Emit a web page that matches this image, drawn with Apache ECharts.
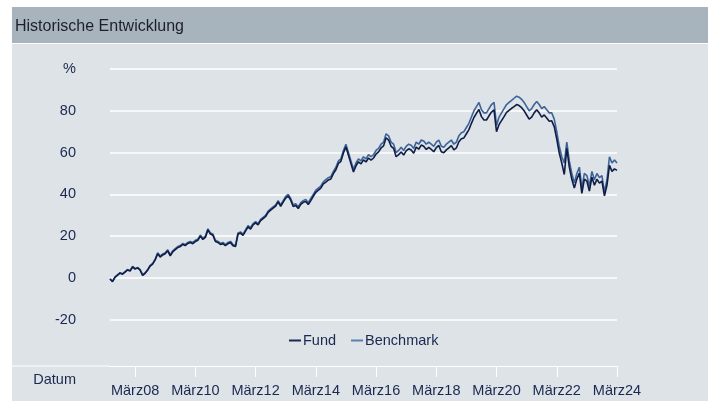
<!DOCTYPE html>
<html>
<head>
<meta charset="utf-8">
<script src="https://cdn.jsdelivr.net/npm/echarts@6/dist/echarts.min.js"></script>
<style>
  html, body { margin: 0; padding: 0; background: #fff; }
  #hdr { position: absolute; left: 12px; top: 7px; width: 696px; height: 36px; background: #a7b4be; }
  #bg { position: absolute; left: 12px; top: 44px; width: 696px; height: 357px; background: #dde3e7; }
  #chart { position: absolute; left: 0; top: 0; width: 708px; height: 401px; }
</style>
</head>
<body>
<div id="hdr"></div>
<div id="bg"></div>
<div id="chart"></div>
<script>
// months counted from März 2008 (0); series start Mai 2007
var firstMonth = -10;
var tickMonths = [0, 24, 48, 72, 96, 120, 144, 168, 192];
var tickLabels = ['März08', 'März10', 'März12', 'März14', 'März16', 'März18', 'März20', 'März22', 'März24'];

var fund = [
  -0.5, -1.8, 0.3, 1.3, 2.3, 1.8, 2.8, 3.8,
  3.3, 5.3, 4.2, 4.8, 3.7, 1.2, 2.2, 3.7, 5.7, 6.6, 8.6, 11.6,
  10.0, 11.0, 11.6, 13.0, 10.6, 12.5, 13.5, 14.5, 15.0, 16.0, 15.5, 16.5,
  17.0, 16.4, 17.4, 18.0, 20.0, 18.4, 19.4, 23.0, 21.0, 20.4, 17.4, 17.0,
  16.0, 16.4, 15.4, 16.4, 17.0, 15.4, 15.0, 21.0, 21.4, 20.4, 22.4, 24.4,
  23.4, 25.4, 26.4, 25.4, 27.4, 28.4, 29.4, 31.4, 32.4, 33.4, 34.4, 36.4,
  34.3, 36.3, 38.2, 39.2, 37.2, 34.2, 34.7, 33.2, 35.2, 36.2, 36.6, 35.1,
  37.0, 39.0, 41.0, 42.0, 43.0, 45.0, 45.9, 46.9, 47.4, 49.9, 51.8, 54.8,
  55.8, 59.8, 62.7, 58.7, 54.7, 50.7, 53.6, 55.6, 54.6, 56.5, 55.5, 57.4,
  56.4, 57.4, 59.3, 60.3, 62.2, 63.2, 67.1, 66.0, 63.0, 62.0, 58.0, 59.0,
  60.3, 58.8, 60.8, 61.8, 61.2, 59.7, 62.6, 61.6, 63.6, 63.0, 61.5, 62.5,
  61.5, 60.4, 62.4, 63.4, 60.4, 59.9, 61.3, 62.3, 63.3, 61.3, 62.2, 65.2,
  66.6, 67.0, 69.0, 71.0, 74.0, 76.8, 78.8, 80.6, 77.2, 75.6, 75.6, 77.6,
  79.4, 80.4, 70.0, 73.4, 75.3, 77.2, 79.2, 80.2, 81.2, 82.0, 83.0, 82.5,
  81.5, 80.0, 78.0, 76.0, 77.0, 79.0, 80.5, 79.0, 77.0, 78.0, 76.5, 75.0,
  75.2, 72.4, 66.5, 59.8, 55.0, 49.5, 62.0, 53.0, 47.2, 43.0, 47.3, 50.2,
  40.5, 47.3, 46.3, 41.6, 48.2, 44.4, 47.2, 45.4, 46.3, 39.3, 44.3, 53.9,
  51.0, 52.2, 51.5
];

var benchmark = [
  -0.5, -1.5, 0.5, 1.5, 2.5, 2.0, 3.0, 4.0,
  3.5, 5.5, 4.5, 5.0, 4.0, 1.5, 2.5, 4.0, 6.0, 7.0, 9.0, 12.0,
  10.5, 11.5, 12.0, 13.5, 11.0, 13.0, 14.0, 15.0, 15.5, 16.5, 16.0, 17.0,
  17.5, 17.0, 18.0, 18.5, 20.5, 19.0, 20.0, 23.5, 21.5, 21.0, 18.0, 17.5,
  16.5, 17.0, 16.0, 17.0, 17.5, 16.0, 15.5, 21.5, 22.0, 21.0, 23.0, 25.0,
  24.0, 26.0, 27.0, 26.0, 28.0, 29.0, 30.0, 32.0, 33.0, 34.0, 35.0, 37.0,
  35.0, 37.0, 39.0, 40.0, 38.0, 35.0, 35.5, 34.0, 36.0, 37.0, 37.5, 36.0,
  38.0, 40.0, 42.0, 43.0, 44.0, 46.0, 47.0, 48.0, 48.5, 51.0, 53.0, 56.0,
  57.0, 61.0, 64.0, 60.0, 56.0, 52.0, 55.0, 57.0, 56.0, 58.0, 57.0, 59.0,
  58.0, 59.0, 61.0, 62.0, 64.0, 65.0, 69.0, 68.0, 65.0, 64.0, 60.0, 61.0,
  62.5, 61.0, 63.0, 64.0, 63.5, 62.0, 65.0, 64.0, 66.0, 65.5, 64.0, 65.0,
  64.0, 63.0, 65.0, 66.0, 63.0, 62.5, 64.0, 65.0, 66.0, 64.0, 65.0, 68.0,
  69.5, 70.0, 72.0, 74.0, 77.0, 80.0, 82.0, 84.0, 80.5, 79.0, 79.0, 81.0,
  83.0, 84.0, 73.0, 77.0, 79.0, 81.0, 83.0, 84.0, 85.0, 86.0, 87.0, 86.5,
  85.5, 84.0, 82.0, 80.0, 81.0, 83.0, 84.5, 83.0, 81.0, 82.0, 80.5, 79.0,
  79.0, 76.0, 70.0, 63.0, 58.0, 55.0, 65.0, 56.0, 50.0, 45.5, 50.0, 53.0,
  43.0, 50.0, 49.0, 44.0, 51.0, 47.0, 50.0, 48.0, 49.0, 41.0, 47.0, 58.0,
  55.0, 56.5, 55.0
];

function pairs(arr) {
  return arr.map(function (v, i) { return [firstMonth + i, v]; });
}

var font = 'Liberation Sans, Arial, sans-serif';
var ink = '#1b2850';

var chart = echarts.init(document.getElementById('chart'), null, { renderer: 'canvas' });
chart.setOption({
  backgroundColor: 'transparent',
  animation: false,
  textStyle: { fontFamily: font },
  title: {
    text: 'Historische Entwicklung',
    left: 15, top: 19, padding: 0,
    textStyle: { fontSize: 16, fontWeight: 'normal', color: '#1e1f2c', fontFamily: font }
  },
  legend: {
    data: ['Fund', 'Benchmark'],
    left: 289, top: 333, padding: 0,
    icon: 'rect', itemWidth: 12, itemHeight: 2, itemGap: 15,
    textStyle: { fontSize: 14.5, color: ink, fontFamily: font, padding: [0, 0, 0, -3] }
  },
  grid: { left: 110, right: 91, top: 69, bottom: 39.5 },
  graphic: [{
    type: 'line', silent: true,
    shape: { x1: 12, y1: 366, x2: 110, y2: 366 },
    style: { stroke: '#ffffff', lineWidth: 1 }
  }],
  xAxis: {
    type: 'value',
    min: firstMonth, max: 192,
    offset: 4.5,
    name: 'Datum', nameLocation: 'start', nameGap: 34,
    nameTextStyle: { fontSize: 14.5, color: ink, verticalAlign: 'top', padding: [6, 0, 0, 0] },
    axisLine: { show: true, onZero: false, lineStyle: { color: '#ffffff', width: 1 } },
    axisTick: { show: true, customValues: tickMonths, length: 11, lineStyle: { color: '#ffffff', width: 1 } },
    axisLabel: {
      customValues: tickMonths, margin: 17, fontSize: 14.5, color: ink,
      formatter: function (v) { return tickLabels[tickMonths.indexOf(v)]; }
    },
    splitLine: { show: false }
  },
  yAxis: {
    type: 'value', min: -40, max: 100, interval: 20,
    axisLine: { show: false }, axisTick: { show: false },
    axisLabel: {
      margin: 34, fontSize: 14.5, color: ink,
      formatter: function (v) { return v === 100 ? '%' : (v === -40 ? '' : String(v)); }
    },
    splitLine: { show: true, showMinLine: false, lineStyle: { color: '#ffffff', width: 1.5 } }
  },
  series: [
    {
      name: 'Benchmark', type: 'line', data: pairs(benchmark),
      showSymbol: false, symbol: 'none',
      lineStyle: { color: '#3d6399', width: 1.6 }, itemStyle: { color: '#5a7fb3' }
    },
    {
      name: 'Fund', type: 'line', data: pairs(fund),
      showSymbol: false, symbol: 'none',
      lineStyle: { color: '#0f1d45', width: 1.6 }, itemStyle: { color: '#1b2850' }
    }
  ]
});
</script>
</body>
</html>
